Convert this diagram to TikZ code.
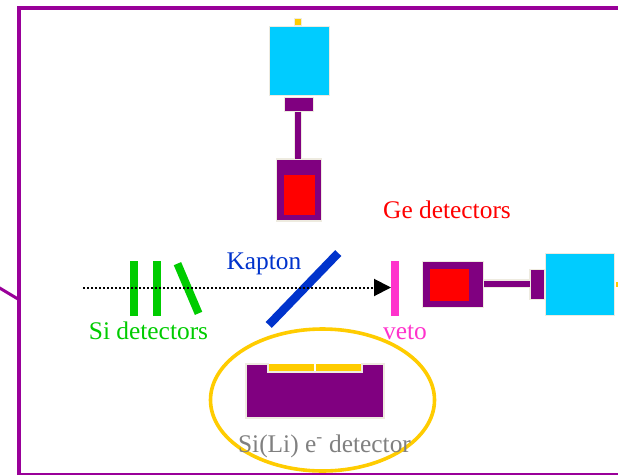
\documentclass[tikz,border=0pt]{standalone}
\usepackage{fontspec}
\setmainfont{Liberation Serif}
\usetikzlibrary{arrows.meta, positioning}

\definecolor{FrameViolet}{HTML}{990099}
\definecolor{BoxPurple}{HTML}{800080}
\definecolor{BoxCream}{HTML}{EEEBE0}
\definecolor{CamCyan}{HTML}{00CCFF}
\definecolor{SiGreen}{HTML}{00CC00}
\definecolor{KaptonBlue}{HTML}{0033CC}
\definecolor{VetoPink}{HTML}{FF33CC}
\definecolor{RingGold}{HTML}{FFCC00}

\tikzset{
  block/.style={
    rectangle, draw=BoxCream, line width=1.6pt,
    inner sep=0pt, outer sep=0pt
  },
  plate/.style={
    rectangle, inner sep=0pt, outer sep=0pt,
    minimum width=8pt, minimum height=55pt
  },
  tag/.style={
    anchor=base, inner sep=0pt, font=\fontsize{25.4}{25.4}\selectfont
  },
  stem/.style={
    line width=6pt, draw=BoxPurple,
    preaction={draw=BoxCream, line width=8.5pt}
  }
}

\begin{document}
\begin{tikzpicture}[x=1pt, y=-1pt]

\clip (0,0) rectangle (618,474);
\fill[white] (0,0) rectangle (618,474);

\draw[FrameViolet, line width=4pt] (19,7.5) rectangle (640,474.5);
\coordinate (tailstart) at (-2,287);
\coordinate (tailend) at (18,299);
\draw[FrameViolet, line width=3pt] (tailstart) -- (tailend);

% vertical arm
\node (topcam) [block, fill=CamCyan, minimum width=60pt, minimum height=69pt] at (299.5,61) {};
\node (topdot) [block, fill=RingGold, minimum width=7pt, minimum height=7pt] at (298,22) {};
\node (topadapter) [block, fill=BoxPurple, minimum width=29pt, minimum height=14pt] at (299,104.5) {};
\node (topge) [block, fill=BoxPurple, minimum width=45pt, minimum height=62pt] at (299,190) {};
\node (topcrystal) [fill=red, inner sep=0pt, minimum width=31pt, minimum height=40pt] at (299.5,195) {};
\draw[stem] ([xshift=-1pt]topadapter.south) -- ([xshift=-1pt]topge.north);

% horizontal arm
\node (sidege) [block, fill=BoxPurple, minimum width=61pt, minimum height=46pt] at (453,284.5) {};
\node (sidecrystal) [fill=red, inner sep=0pt, minimum width=39pt, minimum height=32pt] at (449.5,285) {};
\node (sideadapter) [block, fill=BoxPurple, minimum width=15pt, minimum height=30pt] at (537.5,284.5) {};
\node (sidecam) [block, fill=CamCyan, minimum width=69pt, minimum height=62pt] at (580,284.5) {};
\node (sidedot) [fill=RingGold, inner sep=0pt, minimum width=6pt, minimum height=5pt] at (619,284) {};
\draw[stem] ([yshift=1pt]sideadapter.west) -- ([yshift=1pt]sidege.east);

% beam line
\foreach \xpos/\idx in {134/1,157/2} {
  \node (si\idx) [plate, fill=SiGreen] at (\xpos,288.5) {};
}
\node (si3) [plate, fill=SiGreen, rotate=23, minimum height=54pt] at (188,288.5) {};
\node (kapton) [plate, fill=KaptonBlue, rotate=-44, minimum height=100pt, minimum width=8.5pt] at (303.5,289) {};
\node (veto) [plate, fill=VetoPink] at (395,288.5) {};
\coordinate (beamstart) at (83,287.5);
\draw[line width=2pt, dash pattern=on 2pt off 2pt, -{Triangle[length=17pt, width=17pt]}] (beamstart) -- (beamstart -| veto.west);

% electron detector
\draw[RingGold, line width=3.6pt] (322.5,400) ellipse [x radius=112, y radius=71];
\draw[BoxCream, line width=1.6pt, fill=BoxPurple]
  (246,364) -- (268,364) -- (268,372) -- (362,372) -- (362,364) -- (384,364)
  -- (384,418) -- (246,418) -- cycle;
\foreach \xpos/\idx in {291.5/1,338.5/2} {
  \node (strip\idx) [fill=RingGold, inner sep=0pt, minimum width=45pt, minimum height=7pt] at (\xpos,367.5) {};
}

% labels
\node (silabel) [tag, text=SiGreen] at (148.5,339) {Si detectors};
\node (kaptonlabel) [tag, text=KaptonBlue] at (264,269) {Kapton};
\node (gelabel) [tag, text=red] at (447,218) {Ge detectors};
\node (vetolabel) [tag, text=VetoPink] at (405,339) {veto};
\node (sililabel) [tag, text=gray] at (324.5,452) {Si(Li) e\textsuperscript{-} detector};

\end{tikzpicture}
\end{document}
